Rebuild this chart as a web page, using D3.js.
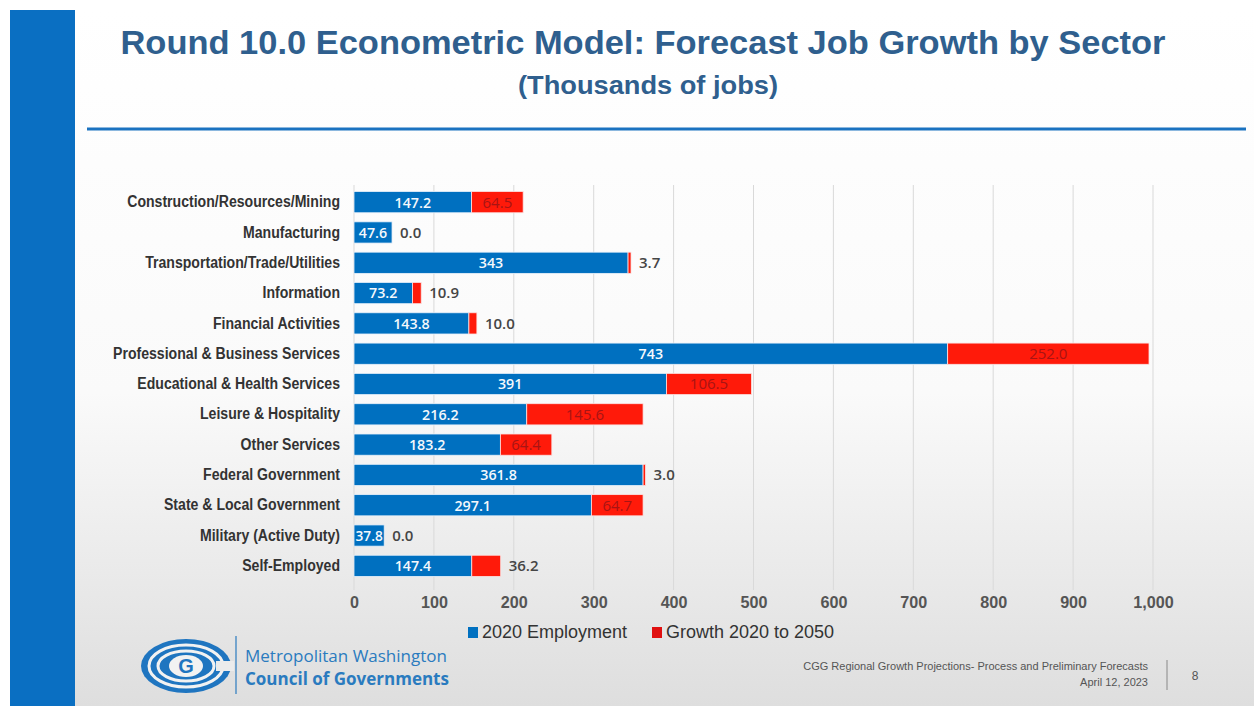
<!DOCTYPE html>
<html>
<head>
<meta charset="utf-8">
<script src="https://cdn.jsdelivr.net/npm/d3@7"></script>
<style>
  body { margin: 0; background: #fff; }
  #chart { width: 1254px; height: 706px; }
  .axis text { font-family: "Liberation Sans", Arial, sans-serif; }
</style>
</head>
<body>
<div id="chart"></div>
<script>
// sectors, top to bottom
const sectors = [
  "Construction/Resources/Mining",
  "Manufacturing",
  "Transportation/Trade/Utilities",
  "Information",
  "Financial Activities",
  "Professional & Business Services",
  "Educational & Health Services",
  "Leisure & Hospitality",
  "Other Services",
  "Federal Government",
  "State & Local Government",
  "Military (Active Duty)",
  "Self-Employed"
];

// thousands of jobs
const employment2020 = [147.2, 47.6, 343, 73.2, 143.8, 743, 391, 216.2, 183.2, 361.8, 297.1, 37.8, 147.4];
const growth2050 = [64.5, 0.0, 3.7, 10.9, 10.0, 252.0, 106.5, 145.6, 64.4, 3.0, 64.7, 0.0, 36.2];

// labels as printed on the bars
const employmentLabels = ["147.2", "47.6", "343", "73.2", "143.8", "743", "391", "216.2", "183.2", "361.8", "297.1", "37.8", "147.4"];
const growthLabels = ["64.5", "0.0", "3.7", "10.9", "10.0", "252.0", "106.5", "145.6", "64.4", "3.0", "64.7", "0.0", "36.2"];

const xTicks = [0, 100, 200, 300, 400, 500, 600, 700, 800, 900, 1000];
const seriesNames = ["2020 Employment", "Growth 2020 to 2050"];

const width = 1254;
const height = 706;
const blue = "#0070c0";
const red = "#ff1a0a";
const sans = "'Liberation Sans', Arial, sans-serif";

// squeeze a text element horizontally, like the narrow font on the slide
function squeeze(sel, k) {
  sel.each(function() {
    const len = this.getComputedTextLength();
    d3.select(this)
      .attr("textLength", len * k)
      .attr("lengthAdjust", "spacingAndGlyphs");
  });
}

const svg = d3.select("#chart")
  .append("svg")
  .attr("width", width)
  .attr("height", height);

// slide background, fading to grey at the bottom
const defs = svg.append("defs");
const grad = defs.append("linearGradient")
  .attr("id", "bg")
  .attr("x1", 0).attr("y1", 0).attr("x2", 0).attr("y2", 1);
grad.append("stop").attr("offset", "0%").attr("stop-color", "#ffffff");
grad.append("stop").attr("offset", "55%").attr("stop-color", "#fafafa");
grad.append("stop").attr("offset", "100%").attr("stop-color", "#dedede");

svg.append("rect")
  .attr("x", 10).attr("y", 10)
  .attr("width", width - 10).attr("height", height - 10)
  .attr("fill", "url(#bg)");

// blue strip on the left
svg.append("rect")
  .attr("x", 10).attr("y", 10)
  .attr("width", 65).attr("height", height - 10)
  .attr("fill", "#0a6fc2");

// title and subtitle
svg.append("text")
  .attr("x", 643)
  .attr("y", 54)
  .attr("text-anchor", "middle")
  .attr("font-family", sans)
  .attr("font-weight", "bold")
  .attr("font-size", 33)
  .attr("fill", "#2f5f8e")
  .attr("textLength", 1045)
  .attr("lengthAdjust", "spacingAndGlyphs")
  .text("Round 10.0 Econometric Model: Forecast Job Growth by Sector");

svg.append("text")
  .attr("x", 648)
  .attr("y", 94)
  .attr("text-anchor", "middle")
  .attr("font-family", sans)
  .attr("font-weight", "bold")
  .attr("font-size", 25)
  .attr("fill", "#2f5f8e")
  .attr("textLength", 260)
  .attr("lengthAdjust", "spacingAndGlyphs")
  .text("(Thousands of jobs)");

svg.append("line")
  .attr("x1", 87).attr("x2", 1246)
  .attr("y1", 129).attr("y2", 129)
  .attr("stroke", "#1a72c0")
  .attr("stroke-width", 3);

// scales
const xScale = d3.scaleLinear()
  .domain([0, 1000])
  .range([354, 1153]);

const yScale = d3.scaleBand()
  .domain(sectors)
  .range([187, 581])
  .paddingInner(0.3)
  .paddingOuter(0.15);

// gridlines
svg.selectAll(".grid")
  .data(xTicks)
  .enter()
  .append("line")
  .attr("class", "grid")
  .attr("x1", function(d) { return xScale(d); })
  .attr("x2", function(d) { return xScale(d); })
  .attr("y1", 185)
  .attr("y2", 590)
  .attr("stroke", "#d9d9d9")
  .attr("stroke-width", 1);

// x axis labels
const xAxis = svg.append("g")
  .attr("class", "axis")
  .attr("transform", "translate(0,590)")
  .call(d3.axisBottom(xScale).tickValues(xTicks).tickFormat(d3.format(",")).tickSize(0).tickPadding(6));

xAxis.select(".domain").remove();
xAxis.selectAll("text")
  .attr("font-size", 17)
  .attr("font-weight", "bold")
  .attr("fill", "#555")
  .call(squeeze, 0.95);

// y axis labels
const yAxis = svg.append("g")
  .attr("class", "axis")
  .attr("transform", "translate(346,0)")
  .call(d3.axisLeft(yScale).tickSize(0).tickPadding(6));

yAxis.select(".domain").remove();
yAxis.selectAll("text")
  .attr("font-size", 16)
  .attr("font-weight", "bold")
  .attr("fill", "#333")
  .call(squeeze, 0.88);

// rows joined from the arrays
const rows = sectors.map(function(s, i) {
  return {
    sector: s,
    base: employment2020[i],
    growth: growth2050[i],
    baseLabel: employmentLabels[i],
    growthLabel: growthLabels[i]
  };
});

const bars = svg.selectAll(".row")
  .data(rows)
  .enter()
  .append("g")
  .attr("class", "row");

bars.append("rect")
  .attr("x", xScale(0))
  .attr("y", function(d) { return yScale(d.sector); })
  .attr("width", function(d) { return xScale(d.base) - xScale(0); })
  .attr("height", yScale.bandwidth())
  .attr("fill", blue)
  .attr("stroke", "#e8f1fa")
  .attr("stroke-width", 0.8);

bars.append("rect")
  .attr("x", function(d) { return xScale(d.base); })
  .attr("y", function(d) { return yScale(d.sector); })
  .attr("width", function(d) { return xScale(d.base + d.growth) - xScale(d.base); })
  .attr("height", yScale.bandwidth())
  .attr("fill", red)
  .attr("stroke", "#fbe3e3")
  .attr("stroke-width", function(d) { return d.growth > 0 ? 0.8 : 0; });

// employment labels, centred in the blue bar (narrowed to fit very short bars)
bars.append("text")
  .attr("x", function(d) { return (xScale(0) + xScale(d.base)) / 2; })
  .attr("y", function(d) { return yScale(d.sector) + yScale.bandwidth() / 2; })
  .attr("dy", "0.36em")
  .attr("text-anchor", "middle")
  .attr("font-family", "'Open Sans', 'Liberation Sans', sans-serif")
  .attr("font-weight", 600)
  .attr("font-size", 15)
  .attr("fill", "#f4f8fc")
  .text(function(d) { return d.baseLabel; })
  .each(function(d) {
    const len = this.getComputedTextLength() * 0.95;
    const room = xScale(d.base) - xScale(0) - 3;
    d3.select(this)
      .attr("textLength", Math.min(len, room))
      .attr("lengthAdjust", "spacingAndGlyphs");
  });

// growth labels: inside the red bar when it is wide, otherwise just past its end
bars.append("text")
  .attr("x", function(d) {
    if (d.growth >= 50) return (xScale(d.base) + xScale(d.base + d.growth)) / 2;
    return xScale(d.base + d.growth) + 8;
  })
  .attr("y", function(d) { return yScale(d.sector) + yScale.bandwidth() / 2; })
  .attr("dy", "0.36em")
  .attr("text-anchor", function(d) { return d.growth >= 50 ? "middle" : "start"; })
  .attr("font-family", "'Open Sans', 'Liberation Sans', sans-serif")
  .attr("font-weight", function(d) { return d.growth >= 50 ? 400 : 600; })
  .attr("font-size", 15)
  .attr("fill", function(d) { return d.growth >= 50 ? "#a81414" : "#454545"; })
  .text(function(d) { return d.growthLabel; });

// legend
const legend = svg.selectAll(".legend")
  .data(seriesNames)
  .enter()
  .append("g")
  .attr("class", "legend")
  .attr("transform", function(d, i) { return `translate(${i === 0 ? 468 : 652},632)`; });

legend.append("rect")
  .attr("x", 0).attr("y", -5)
  .attr("width", 10).attr("height", 11)
  .attr("fill", function(d, i) { return i === 0 ? blue : "#e01010"; });

legend.append("text")
  .attr("x", 14)
  .attr("dy", "0.36em")
  .attr("font-family", sans)
  .attr("font-size", 18)
  .attr("fill", "#333")
  .text(function(d) { return d; });

// COG logo
const logo = svg.append("g").attr("transform", "translate(186,666)");
logo.append("ellipse").attr("rx", 45).attr("ry", 27).attr("fill", "#1f75c0");
logo.append("ellipse").attr("rx", 37).attr("ry", 21).attr("fill", "none").attr("stroke", "#f2f2f2").attr("stroke-width", 3);
logo.append("ellipse").attr("rx", 28).attr("ry", 15).attr("fill", "none").attr("stroke", "#f2f2f2").attr("stroke-width", 3);
logo.append("ellipse").attr("rx", 17).attr("ry", 11).attr("fill", "#f2f2f2");
logo.append("rect").attr("x", 30).attr("y", -5).attr("width", 18).attr("height", 10).attr("fill", "#ececec");
logo.append("text")
  .attr("text-anchor", "middle")
  .attr("dy", "0.36em")
  .attr("font-family", sans)
  .attr("font-weight", "bold")
  .attr("font-size", 20)
  .attr("fill", "#1f75c0")
  .text("G");

svg.append("line")
  .attr("x1", 236).attr("x2", 236)
  .attr("y1", 636).attr("y2", 694)
  .attr("stroke", "#2a7bbf")
  .attr("stroke-width", 1.2);

svg.append("text")
  .attr("x", 245).attr("y", 662)
  .attr("font-family", "'Open Sans', sans-serif")
  .attr("font-size", 17)
  .attr("fill", "#2a7bbf")
  .text("Metropolitan Washington");

svg.append("text")
  .attr("x", 245).attr("y", 685)
  .attr("font-family", "'Open Sans', sans-serif")
  .attr("font-weight", "bold")
  .attr("font-size", 17)
  .attr("fill", "#2a7bbf")
  .text("Council of Governments");

// footer on the right
svg.append("text")
  .attr("x", 1148).attr("y", 670)
  .attr("text-anchor", "end")
  .attr("font-family", sans)
  .attr("font-size", 11)
  .attr("fill", "#555")
  .text("CGG Regional Growth Projections- Process and Preliminary Forecasts");

svg.append("text")
  .attr("x", 1148).attr("y", 686)
  .attr("text-anchor", "end")
  .attr("font-family", sans)
  .attr("font-size", 11)
  .attr("fill", "#555")
  .text("April 12, 2023");

svg.append("line")
  .attr("x1", 1167).attr("x2", 1167)
  .attr("y1", 660).attr("y2", 690)
  .attr("stroke", "#888")
  .attr("stroke-width", 1);

svg.append("text")
  .attr("x", 1195).attr("y", 680)
  .attr("text-anchor", "middle")
  .attr("font-family", sans)
  .attr("font-size", 12)
  .attr("fill", "#555")
  .text("8");
</script>
</body>
</html>
